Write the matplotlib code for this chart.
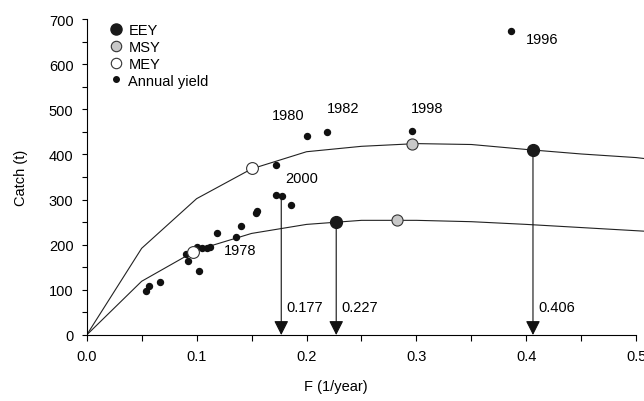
import matplotlib
matplotlib.use('Agg')
import matplotlib.pyplot as plt
import matplotlib.ticker as ticker
from matplotlib import font_manager
from matplotlib.lines import Line2D

# pick a narrow sans if there is one
names = {f.name for f in font_manager.fontManager.ttflist}
fam = 'Liberation Sans Narrow' if 'Liberation Sans Narrow' in names else 'Liberation Sans'
plt.rcParams.update({'font.family': fam, 'font.size': 10.5})

# yield curves (F, catch)
f_grid = [0, 0.05, 0.1, 0.15, 0.2, 0.25, 0.3, 0.35, 0.4, 0.45, 0.5, 0.507]
upper_catch = [0, 192, 302, 368, 406, 418, 424, 422, 411, 401, 393, 391]
lower_catch = [0, 119, 188, 225, 245, 254, 254, 251, 245, 238, 231, 230]

# reference points
eey_f = [0.227, 0.406]
eey_c = [251, 410]
msy_f = [0.282, 0.296]
msy_c = [254, 424]
mey_f = [0.097, 0.150]
mey_c = [183, 369]

# annual yields
yield_f = [0.054, 0.057, 0.067, 0.090, 0.092, 0.100, 0.102, 0.105, 0.109, 0.112,
           0.119, 0.136, 0.140, 0.154, 0.155, 0.172, 0.178, 0.186, 0.172, 0.200,
           0.219, 0.296, 0.386]
yield_c = [97, 108, 118, 179, 163, 196, 142, 192, 192, 195,
           226, 218, 241, 270, 275, 310, 307, 289, 377, 440,
           450, 453, 673]

year_labels = ['1980', '1982', '1998', '1996', '2000', '1978']
year_f = [0.1833, 0.233, 0.310, 0.4145, 0.196, 0.140]
year_c = [488, 502, 502, 656, 347, 188]

# arrows down to the F axis
arrow_f = [0.177, 0.227, 0.406]
arrow_top = [309, 251, 410]
arrow_text = ['0.177', '0.227', '0.406']

fig = plt.figure(figsize=(6.44, 4.02), dpi=100)
ax = fig.add_axes([0.1346, 0.1642, 0.8654, 0.786])

ax.plot(f_grid, upper_catch, color='#222222', lw=0.8, zorder=2)
ax.plot(f_grid, lower_catch, color='#222222', lw=0.8, zorder=2)

for f, top, txt in zip(arrow_f, arrow_top, arrow_text):
    ax.annotate('', xy=(f, 0), xytext=(f, top),
                arrowprops=dict(arrowstyle='-|>,head_length=0.87,head_width=0.44',
                                mutation_scale=10, color='#111111', lw=0.8,
                                shrinkA=0, shrinkB=0), zorder=3)
    ax.text(f + 0.0045, 63, txt, ha='left', va='center')

ax.plot(yield_f, yield_c, 'o', color='#111111', ms=4.3, zorder=4, clip_on=False)
ax.plot(eey_f, eey_c, 'o', mfc='#1a1a1a', mec='#1a1a1a', ms=8.5, zorder=5)
ax.plot(msy_f, msy_c, 'o', mfc='#c8c8c8', mec='#333333', mew=0.8, ms=8, zorder=5)
ax.plot(mey_f, mey_c, 'o', mfc='white', mec='#333333', mew=0.8, ms=8.5, zorder=5)

for lab, f, c in zip(year_labels, year_f, year_c):
    ax.text(f, c, lab, ha='center', va='center')

handles = [Line2D([], [], ls='', marker='o', mfc='#1a1a1a', mec='#1a1a1a', ms=8),
           Line2D([], [], ls='', marker='o', mfc='#c8c8c8', mec='#333333', mew=0.8, ms=7.5),
           Line2D([], [], ls='', marker='o', mfc='white', mec='#333333', mew=0.8, ms=7.5),
           Line2D([], [], ls='', marker='o', color='#111111', ms=4)]
ax.legend(handles, ['EEY', 'MSY', 'MEY', 'Annual yield'], loc='upper left',
          bbox_to_anchor=(0.042, 0.988), frameon=False, handlelength=0.8,
          handletextpad=0.45, labelspacing=0.2, borderpad=0, borderaxespad=0)

ax.set_xlim(0, 0.507)
ax.set_ylim(0, 700)
ax.spines['top'].set_visible(False)
ax.spines['right'].set_visible(False)
ax.spines['bottom'].set_bounds(0, 0.5)
ax.spines['left'].set_bounds(0, 700)
ax.xaxis.set_major_locator(ticker.MultipleLocator(0.1))
ax.xaxis.set_minor_locator(ticker.MultipleLocator(0.05))
ax.yaxis.set_major_locator(ticker.MultipleLocator(100))
ax.yaxis.set_minor_locator(ticker.MultipleLocator(50))
ax.xaxis.set_major_formatter(ticker.FormatStrFormatter('%.1f'))
ax.tick_params(which='major', length=4, width=0.8, direction='out', pad=6)
ax.tick_params(which='minor', length=4, width=0.8, direction='out')
ax.tick_params(axis='y', which='both', length=3.5)

ax.set_xlabel('F (1/year)')
ax.set_ylabel('Catch (t)')
ax.xaxis.set_label_coords(0.447, -0.14)
ax.yaxis.set_label_coords(-0.105, 0.5)

fig.savefig('out.png', dpi=100)
